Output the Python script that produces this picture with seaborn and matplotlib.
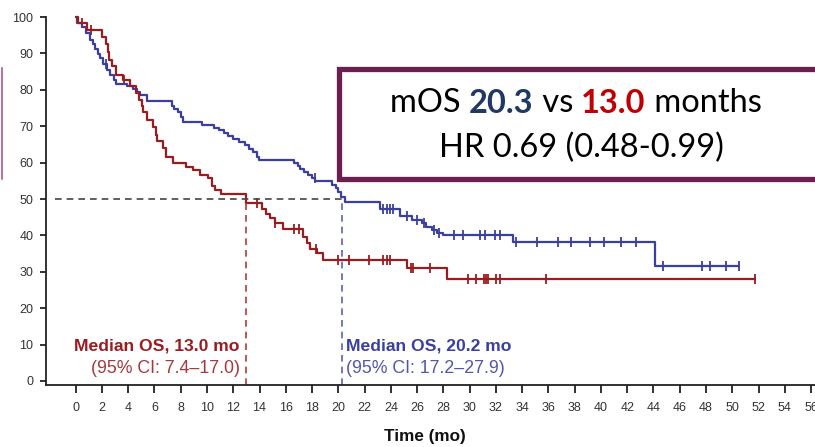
import numpy as np
import pandas as pd
import matplotlib
matplotlib.use("Agg")
import matplotlib.pyplot as plt
import seaborn as sns
from matplotlib.patches import Rectangle
from matplotlib.lines import Line2D
from matplotlib.text import Annotation

# Kaplan-Meier steps (time in months, survival in %)
red_t = [0, 0.2, 0.9, 2.0, 2.3, 2.45, 2.55, 2.8, 3.1, 3.6, 4.1, 4.6, 4.85, 5.05, 5.15, 5.4,
         5.9, 6.1, 6.2, 6.65, 6.9, 7.4, 8.4, 8.95, 9.45, 10.1, 10.4, 10.6, 11.1, 13.0, 14.2,
         14.5, 14.8, 15.2, 15.8, 17.3, 17.6, 17.85, 18.35, 18.86, 25.2, 28.3, 51.7]
red_s = [100, 98.5, 96.5, 94.6, 92.5, 90.5, 88.3, 86.5, 84.2, 82.7, 81.0, 79.2, 77.2, 75.5,
         74.0, 71.7, 69.9, 67.5, 66.0, 63.9, 61.6, 59.8, 58.9, 58.0, 56.6, 55.7, 53.5, 52.5,
         51.3, 48.8, 47.2, 46.0, 44.7, 43.5, 41.9, 39.5, 38.0, 36.2, 35.1, 33.3, 31.0, 27.9, 27.9]
red_cens = [0.45, 1.2, 3.7, 13.8, 15.2, 16.6, 17.0, 18.3, 20.0, 20.8, 22.3, 23.4, 23.7, 23.9,
            25.5, 25.7, 27.0, 29.9, 30.5, 31.1, 31.25, 31.4, 32.0, 32.3, 35.8, 51.7]

blue_t = [0, 0.1, 0.45, 0.8, 1.1, 1.3, 1.45, 1.7, 1.85, 2.1, 2.4, 2.6, 2.9, 3.1, 3.9, 4.4,
          4.7, 4.9, 5.4, 7.3, 7.5, 7.8, 8.0, 8.2, 9.6, 10.5, 10.9, 11.3, 11.6, 12.0, 12.4,
          12.9, 13.2, 13.5, 13.8, 13.95, 16.6, 16.9, 17.1, 17.4, 17.7, 18.0, 18.25, 19.5,
          19.8, 20.0, 20.2, 20.5, 23.2, 24.7, 25.6, 26.4, 26.7, 27.1, 27.5, 28.0, 33.3,
          44.1, 50.5]
blue_s = [100, 98.3, 97.3, 95.5, 93.7, 92.5, 91.2, 89.8, 88.7, 87.2, 85.5, 84.0, 82.7, 81.6,
          81.0, 80.2, 79.3, 78.5, 77.0, 75.7, 74.8, 73.8, 72.5, 71.1, 70.3, 69.5, 68.9, 68.2,
          67.4, 66.6, 65.7, 64.8, 63.8, 62.8, 61.5, 60.7, 59.9, 59.0, 58.2, 57.4, 56.6, 55.7,
          54.9, 53.9, 52.9, 52.0, 50.6, 49.3, 47.3, 45.3, 44.2, 43.3, 42.4, 41.5, 40.8, 40.1,
          38.2, 31.7, 31.7]
blue_cens = [2.3, 18.2, 23.4, 23.7, 23.9, 24.2, 25.2, 26.0, 26.5, 27.3, 27.7, 28.8, 29.5,
             30.8, 31.2, 31.9, 32.3, 33.5, 35.1, 36.7, 37.7, 39.2, 40.2, 41.5, 42.7, 44.7,
             47.7, 48.3, 49.5, 50.5]

red_median = 12.95
blue_median = 20.25
x_ticks = list(range(0, 57, 2))
y_ticks = list(range(0, 101, 10))

RED = "#9a1c1f"
BLUE = "#3b3f9e"
PURPLE = "#6b1f4f"


def step_value(times, surv, t):
    i = np.searchsorted(times, t, side="right") - 1
    return surv[max(i, 0)]


sns.set_style("ticks")
plt.rcParams["font.family"] = ["Liberation Sans", "DejaVu Sans"]

fig = plt.figure(figsize=(8.15, 4.47), dpi=100)
W, H = 815, 447
ax = fig.add_axes([46 / W, 1 - 385 / H, 1 - 46 / W, 385 / H])

df_red = pd.DataFrame({"t": red_t, "s": red_s})
df_blue = pd.DataFrame({"t": blue_t, "s": blue_s})
sns.lineplot(data=df_blue, x="t", y="s", ax=ax, color=BLUE, lw=1.6,
             drawstyle="steps-post", estimator=None, sort=False)
sns.lineplot(data=df_red, x="t", y="s", ax=ax, color=RED, lw=1.6,
             drawstyle="steps-post", estimator=None, sort=False)

cr = pd.DataFrame({"t": red_cens, "s": [step_value(red_t, red_s, t) for t in red_cens]})
cb = pd.DataFrame({"t": blue_cens, "s": [step_value(blue_t, blue_s, t) for t in blue_cens]})
sns.scatterplot(data=cb, x="t", y="s", ax=ax, marker="|", color=BLUE, s=45, linewidth=1.3)
sns.scatterplot(data=cr, x="t", y="s", ax=ax, marker="|", color=RED, s=45, linewidth=1.3)

# median reference lines
ax.plot([-1.6, blue_median], [50, 50], ls=(0, (4, 3)), color="#444444", lw=1.2)
ax.plot([red_median, red_median], [-1, 50], ls=(0, (4, 3)), color="#b03a3a", lw=1.2)
ax.plot([blue_median, blue_median], [-1, 50], ls=(0, (4, 3)), color="#5a60c0", lw=1.2)

ax.set_xlim(-2.26, 56.3)
ax.set_ylim(-1.1, 104.7)
ax.set_xticks(x_ticks)
ax.set_yticks(y_ticks)
ax.spines["top"].set_visible(False)
ax.spines["right"].set_visible(False)
ax.spines["left"].set_bounds(-1.1, 100)
for sp in ("left", "bottom"):
    ax.spines[sp].set_color("#222222")
    ax.spines[sp].set_linewidth(1.3)
ax.tick_params(axis="x", length=6, width=1.3, pad=6, labelsize=9, labelcolor="#333333", color="#222222")
ax.tick_params(axis="y", length=4, width=1.3, pad=5, labelsize=9, labelcolor="#333333", color="#222222")
ax.set_xlabel("")
ax.set_ylabel("")

ax.text(12.5, 9.5, "Median OS, 13.0 mo", ha="right", va="center", color=RED,
        fontsize=12.6, fontweight="bold")
ax.text(12.5, 3.5, "(95% CI: 7.4\u201317.0)", ha="right", va="center", color="#a8383c",
        fontsize=12.8)
ax.text(20.6, 9.5, "Median OS, 20.2 mo", ha="left", va="center", color=BLUE,
        fontsize=12.6, fontweight="bold")
ax.text(20.6, 3.5, "(95% CI: 17.2\u201327.9)", ha="left", va="center", color="#5256b0",
        fontsize=12.8)

fig.text(425 / W, 1 - 437 / H, "Time (mo)", ha="center", va="center", fontsize=12.3,
         fontweight="bold", color="#111111")

# annotation box
fig.patches.append(Rectangle((339 / W, 1 - 179 / H), 500 / W, 110 / H, transform=fig.transFigure,
                             facecolor="white", edgecolor=PURPLE, lw=3.8, zorder=5))
fig.lines.append(Line2D([1.5 / W, 1.5 / W], [1 - 68 / H, 1 - 179 / H], transform=fig.transFigure,
                        color="#b07aa0", lw=1.5))

box_font = ["Lato", "DejaVu Sans"]
box_size = 23.5
parts = [("mOS ", "black", "normal"), ("20.3", "#1f3864", "bold"), (" vs ", "black", "normal"),
         ("13.0", "#c00000", "bold"), (" months", "black", "normal")]
prev = fig.text(390 / W, 1 - 112 / H, parts[0][0], color=parts[0][1], fontweight=parts[0][2],
                fontsize=box_size, family=box_font, ha="left", va="baseline", zorder=6)
for txt, col, wt in parts[1:]:
    prev = fig.add_artist(Annotation(txt, xy=(1, 0), xycoords=prev, color=col, fontweight=wt,
                                     fontsize=box_size, family=box_font, ha="left", va="bottom",
                                     zorder=6, annotation_clip=False))
fig.text(581 / W, 1 - 148 / H, "HR 0.69 (0.48-0.99)", color="black", fontsize=box_size,
         family=box_font, ha="center", va="center", zorder=6)

fig.savefig("out.png", dpi=100)
